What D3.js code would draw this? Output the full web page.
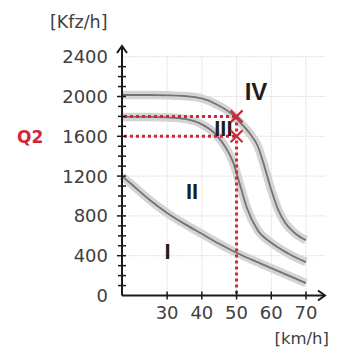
<!DOCTYPE html>
<html><head><meta charset="utf-8">
<script src="https://cdn.jsdelivr.net/npm/d3@7"></script>
<style>html,body{margin:0;padding:0;background:#fff;}svg{display:block;}</style>
</head><body>
<script>
// ---- data ----
const speeds1 = [17, 20, 25, 30, 35, 40, 45, 50, 55, 60, 65, 70];
const flow1   = [1200, 1110, 960, 830, 720, 620, 520, 430, 350, 275, 200, 125];
const speeds2 = [17, 25, 30, 35, 40, 44, 47, 49, 51, 53, 56, 60, 65, 70];
const flow2   = [1795, 1795, 1790, 1775, 1720, 1620, 1480, 1340, 1110, 880, 660, 530, 420, 335];
const speeds3 = [17, 25, 30, 35, 40, 44, 48, 51, 54, 56, 58, 60, 62, 64, 67, 70];
const flow3   = [2015, 2015, 2012, 2005, 1980, 1925, 1840, 1740, 1620, 1510, 1300, 1060, 860, 730, 620, 555];
const xTicks = [30, 40, 50, 60, 70];
const yTicks = [0, 400, 800, 1200, 1600, 2000, 2400];
const yMinorStep = 100;
const zoneLabels = ["I", "II", "III", "IV"];
const zoneX = [30.1, 37.2, 46.2, 55.6];
const zoneY = [367, 970, 1600, 1960];
const markSpeed = 50;
const markFlows = [1800, 1600];
const q2Label = "Q2";
const yUnit = "[Kfz/h]";
const xUnit = "[km/h]";

// ---- layout ----
const W = 338, H = 350;
const svg = d3.select("body").append("svg").attr("width", W).attr("height", H);
const x = d3.scaleLinear().domain([17, 70]).range([122, 306]);
const y = d3.scaleLinear().domain([0, 2400]).range([295.5, 56.7]);
const xEnd = 325, yTop = 46;
const FONT = "'DejaVu Sans', sans-serif";
const RED = "#d3263b";
const TXT = "#404040";

// grid
const grid = svg.append("g").attr("stroke", "#e0e0e0").attr("stroke-width", 1).attr("stroke-dasharray", "2,1");
grid.selectAll(".gx").data(xTicks).join("line")
  .attr("x1", d => x(d)).attr("x2", d => x(d)).attr("y1", y(2400)).attr("y2", y(0));
grid.selectAll(".gy").data(yTicks.filter(d => d > 0)).join("line")
  .attr("x1", x(17)).attr("x2", xEnd).attr("y1", d => y(d)).attr("y2", d => y(d));

// curves
const series = [
  speeds1.map((s, i) => [s, flow1[i]]),
  speeds2.map((s, i) => [s, flow2[i]]),
  speeds3.map((s, i) => [s, flow3[i]])
];
const line = d3.line().x(d => x(d[0])).y(d => y(d[1])).curve(d3.curveMonotoneX);
const cg = svg.append("g").attr("fill", "none");
cg.selectAll(".band").data(series).join("path")
  .attr("d", line).attr("stroke", "#d4d4d4").attr("stroke-width", 8.5);
cg.selectAll(".ln").data(series).join("path")
  .attr("d", line).attr("stroke", "#737373").attr("stroke-width", 1.8);

// red dotted guides
const rg = svg.append("g").attr("stroke", RED).attr("stroke-width", 3).attr("stroke-dasharray", "3,3").attr("fill", "none");
rg.selectAll(".h").data(markFlows).join("line")
  .attr("x1", x(17) + 2).attr("x2", x(markSpeed)).attr("y1", d => y(d)).attr("y2", d => y(d));
rg.append("line").attr("x1", x(markSpeed)).attr("x2", x(markSpeed))
  .attr("y1", y(d3.max(markFlows))).attr("y2", y(0));

// axes
const ax = svg.append("g").attr("stroke", "#1a1a1a").attr("fill", "none");
ax.append("line").attr("x1", x(17)).attr("x2", x(17)).attr("y1", y(0)).attr("y2", yTop).attr("stroke-width", 2);
ax.append("line").attr("x1", x(17)).attr("x2", xEnd).attr("y1", y(0)).attr("y2", y(0)).attr("stroke-width", 2);
ax.append("path").attr("d", `M${x(17)-5},${yTop+7}L${x(17)},${yTop}L${x(17)+5},${yTop+7}`).attr("stroke-width", 2);
ax.append("path").attr("d", `M${xEnd-7},${y(0)-5}L${xEnd},${y(0)}L${xEnd-7},${y(0)+5}`).attr("stroke-width", 2);
const minor = d3.range(yMinorStep, 2400, yMinorStep);
ax.selectAll(".ym").data(minor).join("line")
  .attr("x1", d => x(17) - (d % 400 === 0 ? 5 : 4)).attr("x2", x(17) + 4)
  .attr("y1", d => y(d)).attr("y2", d => y(d)).attr("stroke-width", 1.5);
ax.selectAll(".xm").data(xTicks).join("line")
  .attr("x1", d => x(d)).attr("x2", d => x(d))
  .attr("y1", y(0) - 4).attr("y2", y(0) + 4).attr("stroke-width", 1.5);

// tick labels
svg.append("g").selectAll("text").data(yTicks).join("text")
  .attr("x", 108).attr("y", d => y(d)).attr("dy", "0.36em")
  .attr("text-anchor", "end").attr("font-family", FONT).attr("font-size", 18).attr("fill", TXT)
  .text(d => d);
svg.append("g").selectAll("text").data(xTicks).join("text")
  .attr("x", d => x(d)).attr("y", 318.5)
  .attr("text-anchor", "middle").attr("font-family", FONT).attr("font-size", 18).attr("fill", TXT)
  .text(d => d);

// unit labels
svg.append("text").attr("x", 50).attr("y", 28).attr("font-family", FONT).attr("font-size", 17.5).attr("fill", TXT).text(yUnit);
svg.append("text").attr("x", 329).attr("y", 344).attr("text-anchor", "end").attr("font-family", FONT).attr("font-size", 16.5).attr("fill", TXT).text(xUnit);
svg.append("text").attr("x", 17).attr("y", 143).attr("font-family", FONT).attr("font-weight", "bold").attr("font-size", 17).attr("fill", RED).text(q2Label);

// zone labels
svg.append("g").selectAll("text").data(zoneLabels).join("text")
  .attr("x", (d, i) => x(zoneX[i])).attr("y", (d, i) => y(zoneY[i]))
  .attr("text-anchor", "middle").attr("font-family", "'Liberation Sans', Arial, sans-serif")
  .attr("font-weight", "bold").attr("font-size", (d, i) => i === 3 ? 24 : 22).attr("fill", "#1e1e1e")
  .text(d => d);

// X markers
const mk = svg.append("g").attr("stroke", RED).attr("stroke-width", 2.2);
markFlows.forEach(f => {
  const cx = x(markSpeed), cy = y(f), r = 6;
  mk.append("line").attr("x1", cx - r).attr("y1", cy - r).attr("x2", cx + r).attr("y2", cy + r);
  mk.append("line").attr("x1", cx - r).attr("y1", cy + r).attr("x2", cx + r).attr("y2", cy - r);
});
</script>
</body></html>
